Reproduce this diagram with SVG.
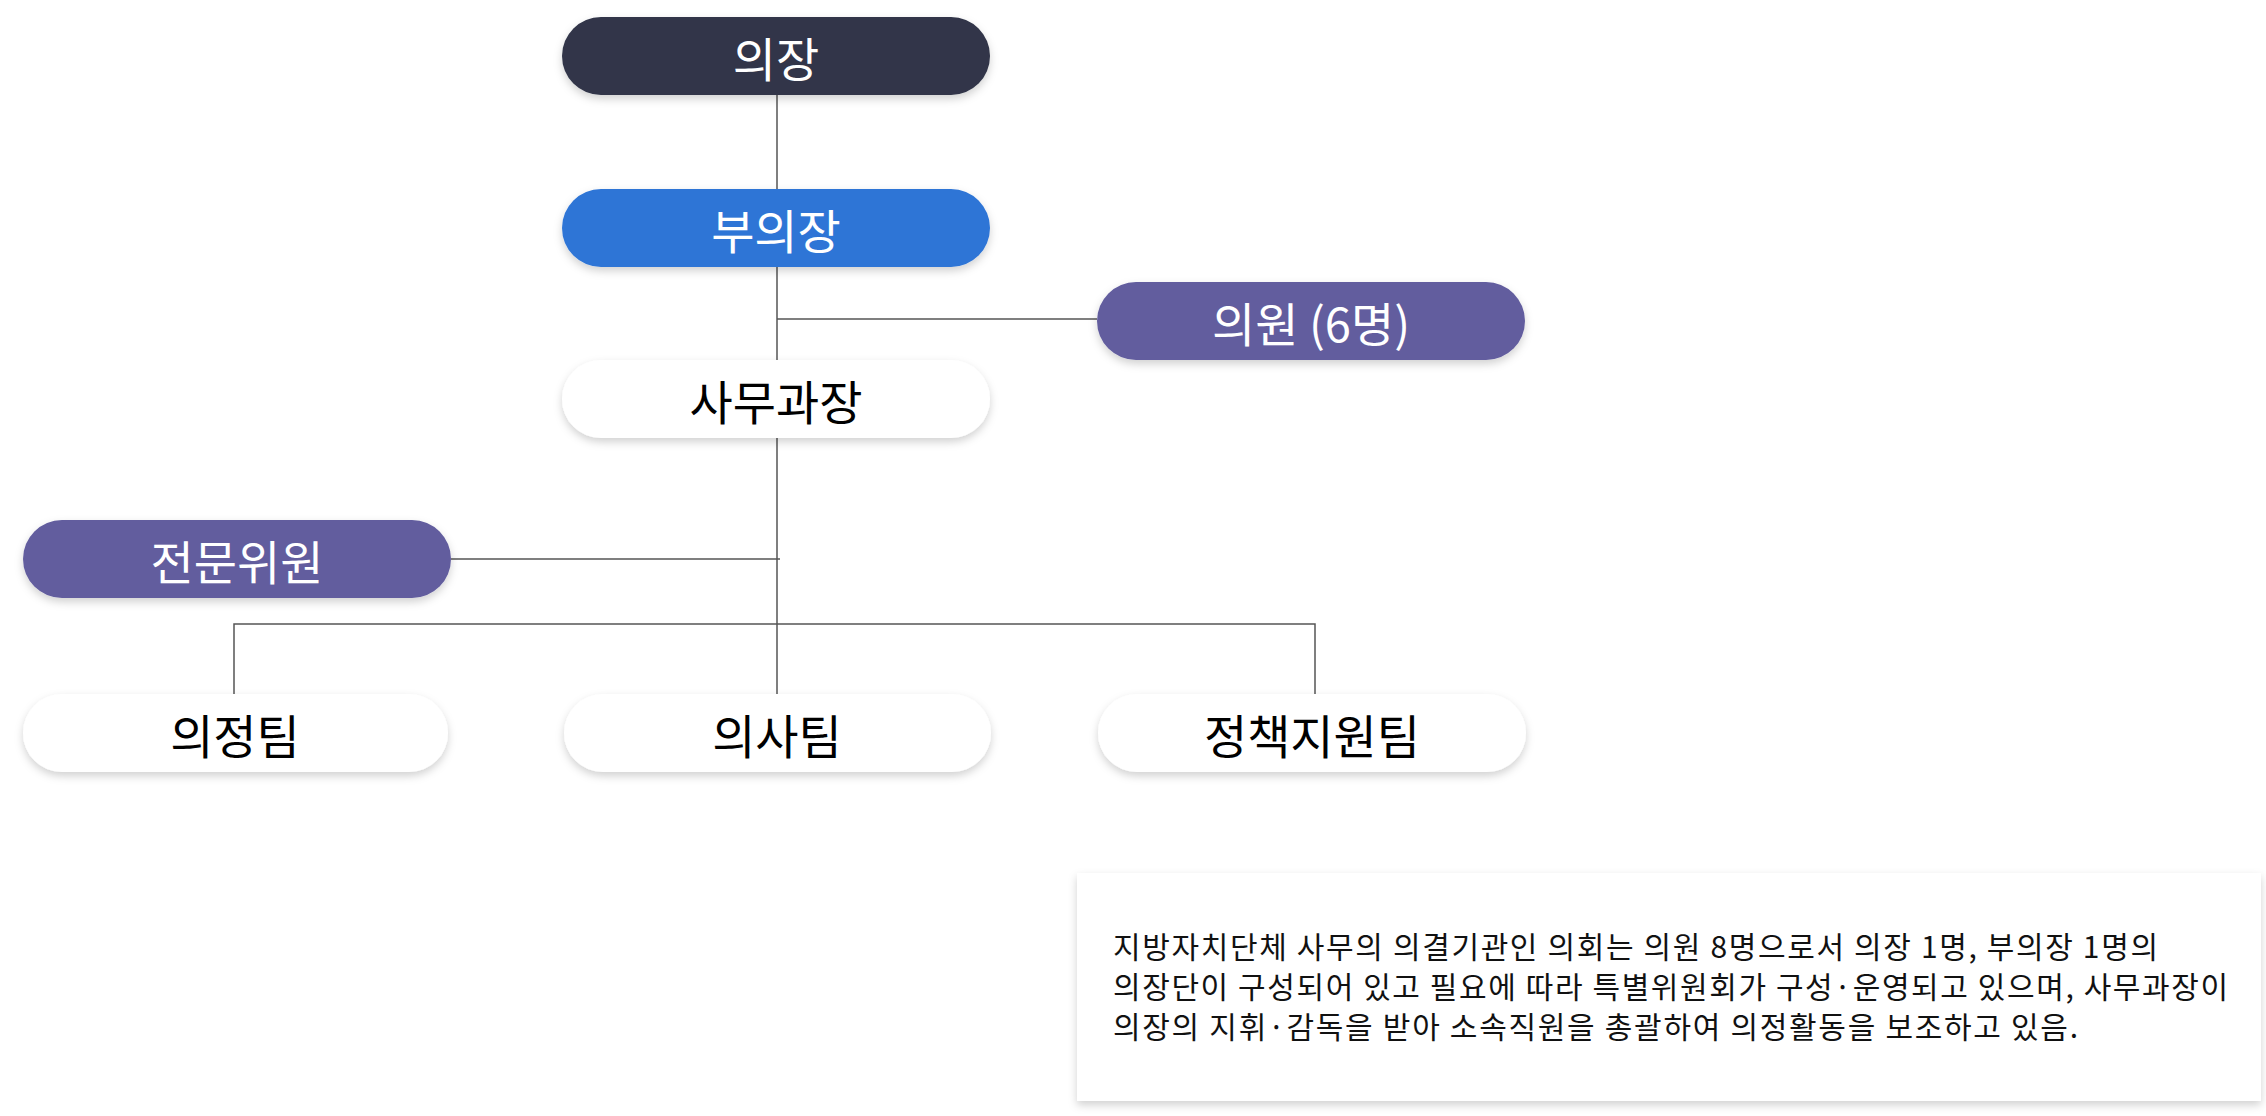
<svg xmlns="http://www.w3.org/2000/svg" width="2266" height="1116" viewBox="0 0 2266 1116">
<style>
.n{stroke:none}
.t{font-family:"Noto Sans CJK KR","Noto Sans",sans-serif;font-size:47px;text-anchor:middle;dominant-baseline:central}
.w{fill:#fff}.k{fill:#000}
.c{stroke:#555;stroke-width:1.5;fill:none}
.p{font-family:"Noto Sans CJK KR","Noto Sans",sans-serif;font-size:30px;fill:#111}
</style>
<defs>
<filter id="sh" x="-10%" y="-20%" width="120%" height="150%"><feDropShadow dx="0" dy="4" stdDeviation="4" flood-color="#000" flood-opacity="0.18"/></filter>
</defs>
<rect width="2266" height="1116" fill="#fff"/>
<g id="connectors">
<path class="c" d="M777 95V694M777 319H1097M451 559H780M234 694V624H1315V694"/>
</g>
<g id="n1"><rect x="562" y="17" width="428" height="78" rx="39" fill="#313548" filter="url(#sh)"/><text class="t w" x="776" y="56">의장</text></g>
<g id="n2"><rect x="562" y="189" width="428" height="78" rx="39" fill="#2E75D6" filter="url(#sh)"/><text class="t w" x="776" y="228">부의장</text></g>
<g id="n3"><rect x="1097" y="282" width="428" height="78" rx="39" fill="#625D9E" filter="url(#sh)"/><text class="t w" x="1311" y="321">의원 (6명)</text></g>
<g id="n4"><rect x="562" y="360" width="428" height="78" rx="39" fill="#fff" filter="url(#sh)"/><text class="t k" x="776" y="399">사무과장</text></g>
<g id="n5"><rect x="23" y="520" width="428" height="78" rx="39" fill="#625D9E" filter="url(#sh)"/><text class="t w" x="237" y="559">전문위원</text></g>
<g id="n6"><rect x="23" y="694" width="425" height="78" rx="39" fill="#fff" filter="url(#sh)"/><text class="t k" x="235" y="733">의정팀</text></g>
<g id="n7"><rect x="564" y="694" width="427" height="78" rx="39" fill="#fff" filter="url(#sh)"/><text class="t k" x="777" y="733">의사팀</text></g>
<g id="n8"><rect x="1098" y="694" width="428" height="78" rx="39" fill="#fff" filter="url(#sh)"/><text class="t k" x="1312" y="733">정책지원팀</text></g>
<g id="note">
<rect x="1077" y="873" width="1184" height="228" fill="#fff" filter="url(#sh)"/>
<text class="p" x="1113" y="958" textLength="1045">지방자치단체 사무의 의결기관인 의회는 의원 8명으로서 의장 1명, 부의장 1명의</text>
<text class="p" x="1113" y="998" textLength="1115">의장단이 구성되어 있고 필요에 따라 특별위원회가 구성·운영되고 있으며, 사무과장이</text>
<text class="p" x="1113" y="1038" textLength="965">의장의 지휘·감독을 받아 소속직원을 총괄하여 의정활동을 보조하고 있음.</text>
</g>
</svg>
